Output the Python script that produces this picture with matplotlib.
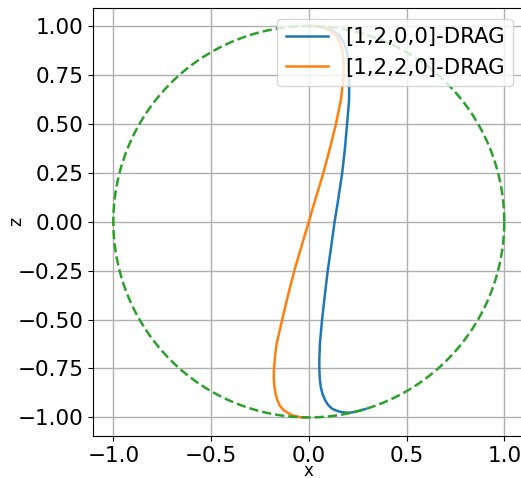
import numpy as np
import matplotlib
matplotlib.use("Agg")
import matplotlib.pyplot as plt

# Trajectory of [1,2,0,0]-DRAG (x, z)
blue_x = [0.0, 0.04, 0.08, 0.12, 0.155, 0.18, 0.196, 0.204, 0.207, 0.206, 0.196, 0.185,
          0.171, 0.146, 0.132, 0.115, 0.097, 0.082, 0.068, 0.057, 0.054, 0.054, 0.056,
          0.061, 0.07, 0.083, 0.098, 0.117, 0.14, 0.16, 0.185, 0.211, 0.24, 0.262, 0.29]
blue_z = [1.0, 0.998, 0.99, 0.976, 0.952, 0.915, 0.865, 0.8, 0.73, 0.62, 0.5, 0.375,
          0.25, 0.085, 0.0, -0.125, -0.25, -0.375, -0.5, -0.621, -0.7, -0.75, -0.8,
          -0.843, -0.88, -0.911, -0.935, -0.954, -0.965, -0.971, -0.975, -0.976, -0.971,
          -0.965, -0.957]

# Trajectory of [1,2,2,0]-DRAG
orange_x = [0.0, 0.045, 0.088, 0.13, 0.148, 0.161, 0.17, 0.176, 0.179, 0.178, 0.171,
            0.164, 0.139, 0.108, 0.074, 0.037, 0.0, -0.037, -0.074, -0.106, -0.136,
            -0.164, -0.172, -0.178, -0.179, -0.176, -0.17, -0.161, -0.148, -0.13,
            -0.088, -0.045, -0.011]
orange_z = [1.0, 0.999, 0.988, 0.962, 0.94, 0.911, 0.88, 0.843, 0.8, 0.75, 0.68,
            0.621, 0.5, 0.375, 0.247, 0.125, 0.0, -0.125, -0.25, -0.375, -0.5,
            -0.621, -0.68, -0.75, -0.8, -0.843, -0.88, -0.911, -0.94, -0.962,
            -0.988, -0.999, -1.0]

labels = ["[1,2,0,0]-DRAG", "[1,2,2,0]-DRAG"]
xticks = [-1.0, -0.5, 0.0, 0.5, 1.0]
yticks = [-1.0, -0.75, -0.5, -0.25, 0.0, 0.25, 0.5, 0.75, 1.0]

W, H = 521, 478
fig = plt.figure(figsize=(W / 100, H / 100), dpi=100)
AX_L, AX_R, AX_T, AX_B = 93, 523.8, 8, 436
ax = fig.add_axes([AX_L / W, (H - AX_B) / H, (AX_R - AX_L) / W, (AX_B - AX_T) / H])

theta = np.linspace(0, 2 * np.pi, 400)
ax.plot(blue_x, blue_z, color="#1f77b4", lw=1.8, label=labels[0])
ax.plot(orange_x, orange_z, color="#ff7f0e", lw=1.8, label=labels[1])
ax.plot(np.cos(theta), np.sin(theta), color="#2ca02c", ls="--", lw=1.8)

ax.set_xlim(-1.104, 1.1)
ax.set_ylim(-1.095, 1.092)
ax.set_xticks(xticks)
ax.set_yticks(yticks)
ax.tick_params(labelsize=15.5)
ax.grid(True, color="#b0b0b0", lw=1.0)
ax.set_axisbelow(True)
ax.set_xlabel("x", fontsize=12)
ax.set_ylabel("z", fontsize=12.5)
ax.xaxis.set_label_coords((308.8 - AX_L) / (AX_R - AX_L), (AX_B - 471.5) / (AX_B - AX_T))
ax.yaxis.set_label_coords((16 - AX_L) / (AX_R - AX_L), (AX_B - 221.7) / (AX_B - AX_T))
ax.xaxis.label.set_va("center")
ax.yaxis.label.set_va("center")
ax.legend(loc="upper right", fontsize=15.3)

fig.savefig("out.png", dpi=100)
